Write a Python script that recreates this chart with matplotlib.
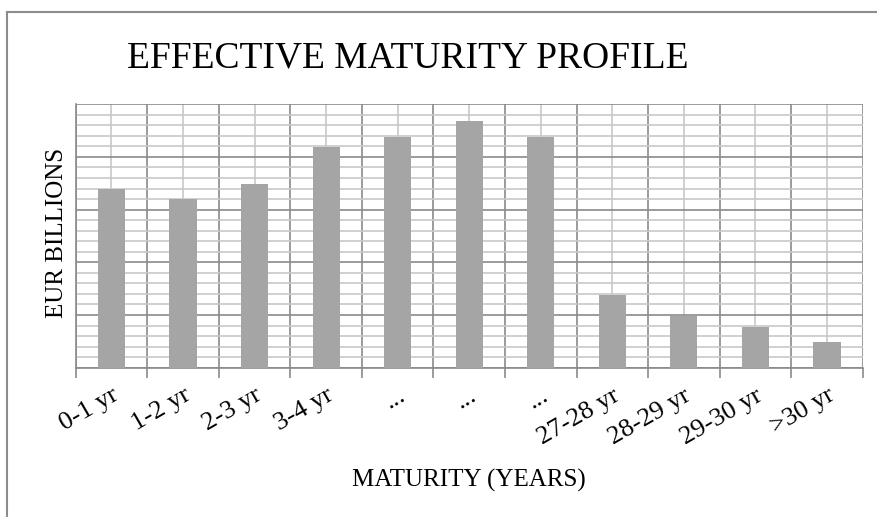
import numpy as np
import matplotlib
matplotlib.use("Agg")
import matplotlib.pyplot as plt
from matplotlib.ticker import MultipleLocator, FixedLocator
from matplotlib.lines import Line2D

# values (EUR billions)
categories = ["0-1 yr", "1-2 yr", "2-3 yr", "3-4 yr", "...", "...", "...",
              "27-28 yr", "28-29 yr", "29-30 yr", ">30 yr"]
amounts = [17.0, 16.0, 17.4, 20.9, 21.9, 23.4, 21.9, 6.9, 4.9, 3.9, 2.4]

plt.rcParams['font.family'] = ['Liberation Serif', 'DejaVu Serif']

fig = plt.figure(figsize=(8.78, 5.17), dpi=100)
ax = fig.add_axes([0.0862, 0.2888, 0.8964, 0.5095])

x = np.arange(len(categories))
ax.bar(x, amounts, width=0.38, color='#a5a5a5', zorder=3)

ax.set_xlim(-0.5, len(categories) - 0.5)
ax.set_ylim(0, 25)

# y grid: dark every 5, light every 1
ax.yaxis.set_major_locator(MultipleLocator(5))
ax.yaxis.set_minor_locator(MultipleLocator(1))
ax.tick_params(axis='y', which='both', length=0, labelleft=False)
ax.grid(axis='y', which='major', color='#8a8a8a', lw=1.2)
ax.grid(axis='y', which='minor', color='#c8c8c8', lw=1.2)

# x grid: dark at category borders, light at centres
ax.set_xticks(x)
ax.set_xticklabels(categories, rotation=30, ha='right', rotation_mode='anchor',
                   fontsize=19)
ax.xaxis.set_minor_locator(FixedLocator(np.arange(-0.5, len(categories), 1.0)))
ax.tick_params(axis='x', which='major', length=0, pad=12)
ax.tick_params(axis='x', which='minor', length=7, width=1.2, color='#8a8a8a')
ax.grid(axis='x', which='major', color='#c8c8c8', lw=1.2)
ax.grid(axis='x', which='minor', color='#8a8a8a', lw=1.2)
ax.set_axisbelow(True)

for s in ['top', 'right']:
    ax.spines[s].set_visible(False)
for s in ['left', 'bottom']:
    ax.spines[s].set_color('#8a8a8a')
    ax.spines[s].set_linewidth(1.2)

fig.text(408 / 878, 1 - 58 / 517, "EFFECTIVE MATURITY PROFILE",
         ha='center', va='center', fontsize=27)
fig.text(469 / 878, 1 - 480 / 517, "MATURITY (YEARS)",
         ha='center', va='center', fontsize=18)
fig.text(57 / 878, 1 - 233 / 517, "EUR BILLIONS", rotation=90,
         ha='center', va='center', fontsize=18)

# outer chart frame (only top and left visible in the crop)
fig.add_artist(Line2D([7.5 / 878, 1], [1 - 11.5 / 517] * 2, color='#8c8c8c', lw=1.5))
fig.add_artist(Line2D([7.5 / 878] * 2, [0, 1 - 11.5 / 517], color='#8c8c8c', lw=1.5))

fig.savefig("out.png", dpi=100)
